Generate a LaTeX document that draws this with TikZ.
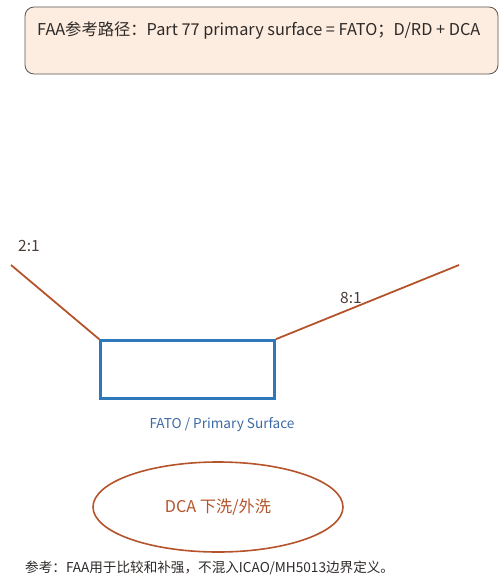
\documentclass[tikz,border=0pt]{standalone}
\usepackage{fontspec}
\setmainfont{Noto Sans CJK SC}
\usetikzlibrary{positioning,shapes.geometric}
\definecolor{slope}{HTML}{B5532A}
\definecolor{fato}{HTML}{2E78BC}
\definecolor{fatotext}{HTML}{3D6AA6}
\definecolor{notefill}{HTML}{FDEDE0}
\definecolor{ink}{HTML}{2E2A28}
\definecolor{ratio}{HTML}{4A3C36}
\begin{document}
\begin{tikzpicture}[
	x=1pt, y=-1pt, % pixel units, y down
	every node/.style={inner sep=0pt, text=ink},
	notebox/.style={draw=ink!80, fill=notefill, rounded corners=9pt, line width=0.8pt},
	slopeline/.style={draw=slope, line width=1.8pt},
	surface/.style={draw=fato, line width=2.6pt}
]
\useasboundingbox (0,0) rectangle (500,581);

% title box
\draw[notebox] (25,7) rectangle (498,74);
\node[anchor=west, font=\fontsize{16.3}{19}\selectfont] (title) at (37,31)
	{FAA参考路径：Part 77 primary surface = FATO；D/RD + DCA};

% FATO / primary surface
\node[surface, minimum width=174pt, minimum height=58pt] (fato) at (187.5,369.5) {};
\node[text=fatotext, font=\fontsize{13.6}{16}\selectfont] (fatolbl) at (222,425) {FATO / Primary Surface};

% approach / departure slopes
\coordinate (leftend) at (11,265);
\coordinate (rightend) at (459,265);
\draw[slopeline] (fato.north west) -- (leftend);
\draw[slopeline] (fato.north east) -- (rightend);
\node[text=ratio, font=\fontsize{15.5}{18}\selectfont] (sl21) at (29,246) {2:1};
\node[text=ratio, font=\fontsize{15.5}{18}\selectfont] (sl81) at (351,298) {8:1};

% DCA
\node[ellipse, draw=slope, line width=1.6pt, minimum width=250pt, minimum height=90pt,
	text=slope, font=\fontsize{16.2}{19}\selectfont] (dca) at (218,507) {DCA 下洗/外洗};

% footnote
\node[anchor=west, font=\fontsize{13.6}{16}\selectfont] (foot) at (25,568)
	{参考：FAA用于比较和补强，不混入ICAO/MH5013边界定义。};
\end{tikzpicture}
\end{document}
